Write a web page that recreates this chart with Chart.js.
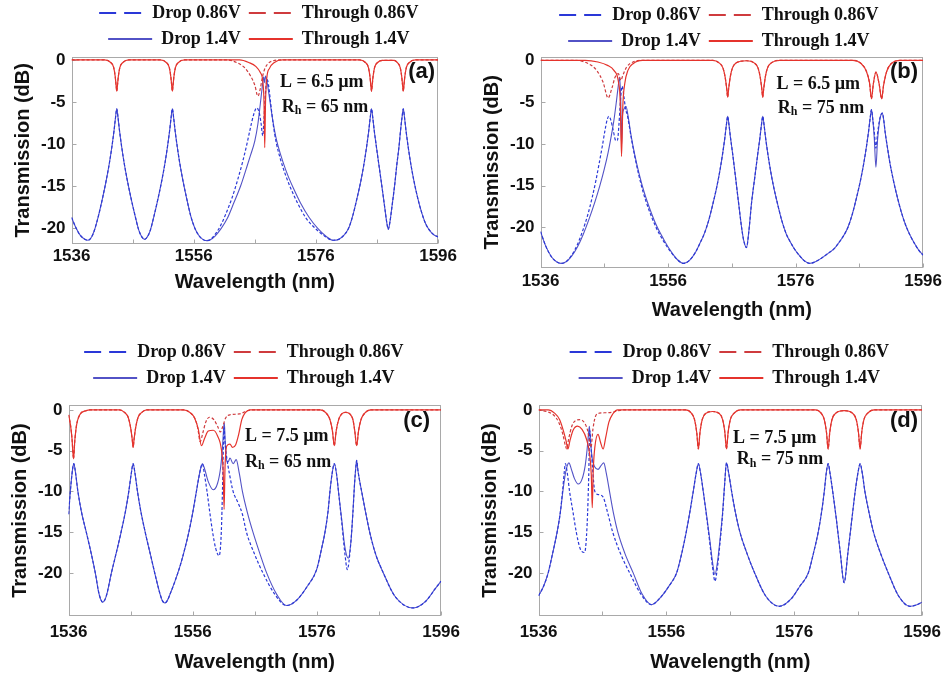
<!DOCTYPE html>
<html lang="en">

<head>
    <meta charset="UTF-8" />
    <title>Transmission spectra</title>
    <script src="https://cdn.jsdelivr.net/npm/chart.js"></script>
    <style>
        body {
            margin: 0;
            background: #fff;
        }

        #page {
            position: relative;
            width: 942px;
            height: 680px;
            overflow: hidden;
        }

        canvas {
            position: absolute;
        }
    </style>
</head>

<body>
    <div id="page">
        <canvas id="chartA" width="449" height="298" style="left:11px;top:-4px"></canvas>
        <canvas id="chartB" width="466" height="324" style="left:480px;top:-2px"></canvas>
        <canvas id="chartC" width="458" height="339" style="left:8px;top:335px"></canvas>
        <canvas id="chartD" width="469" height="339" style="left:478px;top:335px"></canvas>
    </div>

    <script>
        // axis ticks and series names
        const xTicks = [1536, 1556, 1576, 1596];
        const xMinorTicks = [1546, 1566, 1586];
        const yTicks = [0, -5, -10, -15, -20];
        const seriesLabels = ['Drop 0.86V', 'Through 0.86V', 'Drop 1.4V', 'Through 1.4V'];

        // (a) L = 6.5 um, Rh = 65 nm   [wavelength nm, dB]
        const aDrop086 = [
            [1536, -18.7], [1536.7, -19.9], [1537.4, -20.8], [1538.1, -21.25], [1538.7, -21.4], [1539.2, -21.1],
            [1539.7, -20.3], [1540.4, -18.5], [1541.1, -16.3], [1541.7, -14.2], [1542.2, -12.2], [1542.6, -10.3],
            [1542.95, -8.4], [1543.2, -6.8], [1543.4, -5.8], [1543.6, -6.8], [1543.85, -8.4], [1544.2, -10.3],
            [1544.6, -12.2], [1545.1, -14.2], [1545.7, -16.3], [1546.4, -18.5], [1547.0, -20.2], [1547.5, -21.0],
            [1547.95, -21.3], [1548.4, -21.0], [1548.9, -20.2], [1549.5, -18.5], [1550.2, -16.3], [1550.8, -14.2],
            [1551.3, -12.2], [1551.7, -10.3], [1552.05, -8.4], [1552.3, -6.8], [1552.5, -5.8], [1552.7, -6.8],
            [1552.95, -8.4], [1553.3, -10.3], [1553.7, -12.2], [1554.2, -14.2], [1554.8, -16.3], [1555.5, -18.5],
            [1556.2, -20.0], [1556.9, -20.9], [1557.5, -21.3], [1558.1, -21.45], [1558.7, -21.35], [1559.4, -20.8],
            [1560.3, -19.8], [1561.3, -18.2], [1562.3, -16.3], [1563.2, -14.2], [1564.0, -12.1], [1564.7, -10.0],
            [1565.3, -8.0], [1565.8, -6.5], [1566.3, -5.7], [1566.7, -6.2], [1567.0, -7.4], [1567.3, -9.0],
            [1567.5, -7.0], [1567.75, -3.8], [1568.0, -2.3], [1568.25, -3.0], [1568.6, -5.2], [1569.0, -7.6],
            [1569.5, -9.8], [1570.2, -11.8], [1571.0, -13.6], [1571.8, -15.1], [1573.0, -17.0], [1574.4, -18.8],
            [1575.9, -20.0], [1577.4, -20.9], [1578.8, -21.4], [1579.7, -21.3], [1580.6, -20.8], [1581.4, -19.9],
            [1582.1, -18.3], [1582.8, -16.2], [1583.4, -14.2], [1583.9, -12.2], [1584.3, -10.3], [1584.65, -8.4],
            [1584.9, -6.8], [1585.1, -5.8], [1585.3, -6.8], [1585.55, -8.4], [1585.9, -10.3], [1586.3, -12.4],
            [1586.8, -15.0], [1587.3, -17.7], [1587.6, -19.3], [1587.85, -20.1], [1588.1, -19.3], [1588.45, -17.4],
            [1588.9, -14.8], [1589.25, -12.4], [1589.6, -10.3], [1589.85, -8.4], [1590.1, -6.8], [1590.3, -5.8],
            [1590.5, -6.8], [1590.75, -8.4], [1591.1, -10.3], [1591.5, -12.2], [1592.0, -14.2], [1592.6, -16.2],
            [1593.3, -18.1], [1594.0, -19.5], [1594.8, -20.4], [1595.4, -20.8], [1596, -21.0]
        ];
        const aDrop14 = [
            [1536, -18.7], [1536.7, -19.9], [1537.4, -20.8], [1538.1, -21.25], [1538.7, -21.4], [1539.2, -21.1],
            [1539.7, -20.3], [1540.4, -18.5], [1541.1, -16.3], [1541.7, -14.2], [1542.2, -12.2], [1542.6, -10.3],
            [1542.95, -8.4], [1543.2, -6.8], [1543.4, -5.8], [1543.6, -6.8], [1543.85, -8.4], [1544.2, -10.3],
            [1544.6, -12.2], [1545.1, -14.2], [1545.7, -16.3], [1546.4, -18.5], [1547.0, -20.2], [1547.5, -21.0],
            [1547.95, -21.3], [1548.4, -21.0], [1548.9, -20.2], [1549.5, -18.5], [1550.2, -16.3], [1550.8, -14.2],
            [1551.3, -12.2], [1551.7, -10.3], [1552.05, -8.4], [1552.3, -6.8], [1552.5, -5.8], [1552.7, -6.8],
            [1552.95, -8.4], [1553.3, -10.3], [1553.7, -12.2], [1554.2, -14.2], [1554.8, -16.3], [1555.5, -18.5],
            [1556.2, -20.0], [1556.9, -20.9], [1557.5, -21.3], [1558.1, -21.45], [1558.7, -21.35], [1559.5, -20.9],
            [1560.5, -20.0], [1561.5, -18.8], [1562.6, -16.9], [1563.7, -14.9], [1564.6, -12.9], [1565.3, -11.3],
            [1566.0, -9.6], [1566.5, -7.6], [1566.9, -5.2], [1567.2, -3.3], [1567.45, -2.0], [1567.6, -2.7],
            [1567.75, -1.9], [1568.0, -2.6], [1568.4, -4.5], [1568.9, -7.0], [1569.4, -9.0], [1569.8, -10.2],
            [1570.6, -12.1], [1571.4, -13.7], [1572.3, -15.2], [1573.5, -17.0], [1574.9, -18.7], [1576.3, -20.0],
            [1577.6, -20.9], [1578.8, -21.4], [1579.7, -21.3], [1580.6, -20.8], [1581.4, -19.9],
            [1582.1, -18.3], [1582.8, -16.2], [1583.4, -14.2], [1583.9, -12.2], [1584.3, -10.3], [1584.65, -8.4],
            [1584.9, -6.8], [1585.1, -5.8], [1585.3, -6.8], [1585.55, -8.4], [1585.9, -10.3], [1586.3, -12.4],
            [1586.8, -15.0], [1587.3, -17.7], [1587.6, -19.3], [1587.85, -20.1], [1588.1, -19.3], [1588.45, -17.4],
            [1588.9, -14.8], [1589.25, -12.4], [1589.6, -10.3], [1589.85, -8.4], [1590.1, -6.8], [1590.3, -5.8],
            [1590.5, -6.8], [1590.75, -8.4], [1591.1, -10.3], [1591.5, -12.2], [1592.0, -14.2], [1592.6, -16.2],
            [1593.3, -18.1], [1594.0, -19.5], [1594.8, -20.4], [1595.4, -20.8], [1596, -21.0]
        ];
        const aThru086 = [
            [1536, 0], [1541.4, 0], [1542.4, -0.3], [1542.9, -0.9], [1543.15, -2.0], [1543.3, -3.1], [1543.4, -3.7],
            [1543.5, -3.1], [1543.65, -2.0], [1543.9, -0.9], [1544.4, -0.3], [1545.4, 0],
            [1550.5, 0], [1551.5, -0.3], [1552.0, -0.9], [1552.25, -2.0], [1552.4, -3.1], [1552.5, -3.7],
            [1552.6, -3.1], [1552.75, -2.0], [1553.0, -0.9], [1553.5, -0.3], [1554.5, 0],
            [1561.5, 0], [1563.0, -0.3], [1564.3, -0.9], [1565.3, -1.9], [1566.0, -3.0], [1566.5, -4.3],
            [1566.9, -3.4], [1567.2, -2.2], [1567.6, -1.1], [1568.2, -0.4], [1569.0, -0.1], [1570.0, 0],
            [1583.1, 0], [1584.1, -0.3], [1584.6, -0.9], [1584.85, -2.0], [1585.0, -3.1], [1585.1, -3.7],
            [1585.2, -3.1], [1585.35, -2.0], [1585.6, -0.9], [1586.1, -0.3], [1586.9, -0.05], [1587.85, -0.05],
            [1588.8, -0.05], [1589.3, -0.3], [1589.8, -0.9], [1590.05, -2.0], [1590.2, -3.1], [1590.3, -3.7],
            [1590.4, -3.1], [1590.55, -2.0], [1590.8, -0.9], [1591.3, -0.3], [1592.3, 0], [1596, 0]
        ];
        const aThru14 = [
            [1536, 0], [1541.4, 0], [1542.4, -0.3], [1542.9, -0.9], [1543.15, -2.0], [1543.3, -3.1], [1543.4, -3.7],
            [1543.5, -3.1], [1543.65, -2.0], [1543.9, -0.9], [1544.4, -0.3], [1545.4, 0],
            [1550.5, 0], [1551.5, -0.3], [1552.0, -0.9], [1552.25, -2.0], [1552.4, -3.1], [1552.5, -3.7],
            [1552.6, -3.1], [1552.75, -2.0], [1553.0, -0.9], [1553.5, -0.3], [1554.5, 0],
            [1563.5, 0], [1565.0, -0.3], [1566.2, -0.8], [1566.9, -1.5], [1567.3, -2.5], [1567.5, -5.0],
            [1567.62, -10.4], [1567.75, -5.0], [1567.95, -2.2], [1568.4, -1.0], [1569.2, -0.3], [1570.5, 0],
            [1583.1, 0], [1584.1, -0.3], [1584.6, -0.9], [1584.85, -2.0], [1585.0, -3.1], [1585.1, -3.7],
            [1585.2, -3.1], [1585.35, -2.0], [1585.6, -0.9], [1586.1, -0.3], [1586.9, -0.05], [1587.85, -0.05],
            [1588.8, -0.05], [1589.3, -0.3], [1589.8, -0.9], [1590.05, -2.0], [1590.2, -3.1], [1590.3, -3.7],
            [1590.4, -3.1], [1590.55, -2.0], [1590.8, -0.9], [1591.3, -0.3], [1592.3, 0], [1596, 0]
        ];

        // (b) L = 6.5 um, Rh = 75 nm
        const bDrop086 = [
            [1536, -20.5], [1536.8, -22.2], [1537.7, -23.5], [1538.5, -24.1], [1539.2, -24.3], [1540.0, -24.1],
            [1540.9, -23.3], [1541.8, -22.0], [1542.6, -20.4], [1543.4, -18.5], [1544.1, -16.4], [1544.7, -14.3],
            [1545.2, -12.3], [1545.7, -10.2], [1546.1, -8.4], [1546.45, -7.1], [1546.7, -6.7], [1547.0, -7.1],
            [1547.4, -8.4], [1547.8, -9.6], [1548.05, -9.6], [1548.3, -7.6], [1548.55, -4.6], [1548.8, -3.1],
            [1549.05, -4.2], [1549.35, -5.9], [1549.6, -6.5], [1549.9, -7.8], [1550.3, -9.6], [1550.8, -11.6],
            [1551.4, -13.7], [1552.1, -15.8], [1553.0, -17.9], [1554.0, -19.8], [1555.1, -21.4], [1556.3, -22.8],
            [1557.4, -23.8], [1558.4, -24.3], [1559.4, -23.9], [1560.35, -22.9], [1561.05, -21.8], [1561.65, -20.8],
            [1562.35, -19.2], [1563.05, -17.1], [1563.65, -15.1], [1564.15, -13.1], [1564.55, -11.2], [1564.9, -9.3],
            [1565.15, -7.7], [1565.35, -6.7], [1565.55, -7.7], [1565.8, -9.3], [1566.15, -11.3], [1566.55, -13.8],
            [1567.05, -17.0], [1567.55, -20.1], [1567.85, -21.5], [1568.3, -22.4], [1568.65, -20.6], [1569.1, -17.0],
            [1569.6, -14.0], [1570.05, -11.3], [1570.4, -9.3], [1570.65, -7.7], [1570.85, -6.7], [1571.05, -7.7],
            [1571.3, -9.3], [1571.65, -11.2], [1572.05, -13.1], [1572.55, -15.1], [1573.15, -17.1], [1573.85, -19.2],
            [1574.55, -20.8], [1575.15, -21.7], [1575.85, -22.6], [1576.65, -23.4], [1577.4, -24.0], [1578.2, -24.3],
            [1579.1, -24.1], [1580.0, -23.7], [1581.1, -23.1], [1582.1, -22.5], [1582.9, -21.7], [1583.6, -20.9],
            [1584.2, -20.0], [1584.9, -18.4], [1585.6, -16.3], [1586.2, -14.3], [1586.7, -12.3], [1587.1, -10.4],
            [1587.45, -8.5], [1587.7, -6.9], [1587.9, -5.9], [1588.1, -7.0], [1588.35, -8.6], [1588.6, -10.5],
            [1588.85, -8.8], [1589.15, -7.2], [1589.4, -6.5], [1589.6, -6.3], [1589.8, -7.0], [1590.05, -8.6],
            [1590.4, -10.4], [1590.8, -12.3], [1591.3, -14.2], [1591.9, -16.2], [1592.6, -18.2], [1593.3, -19.8],
            [1594.0, -21.0], [1594.8, -22.1], [1595.4, -22.8], [1596, -23.3]
        ];
        const bDrop14 = [
            [1536, -20.5], [1536.8, -22.2], [1537.7, -23.5], [1538.5, -24.1], [1539.2, -24.3], [1540.0, -24.1],
            [1540.9, -23.4], [1541.8, -22.3], [1542.7, -20.8], [1543.6, -19.0], [1544.5, -17.0], [1545.3, -15.0],
            [1546.0, -13.0], [1546.6, -11.0], [1547.1, -9.0], [1547.5, -7.2], [1547.85, -5.2], [1548.15, -3.3],
            [1548.4, -2.0], [1548.58, -5.0], [1548.7, -10.3], [1548.85, -6.6], [1549.1, -5.8], [1549.4, -5.5],
            [1549.75, -6.8], [1550.2, -9.0], [1550.8, -11.4], [1551.5, -13.7], [1552.3, -15.9], [1553.2, -17.9],
            [1554.2, -19.8], [1555.3, -21.4], [1556.4, -22.8], [1557.4, -23.8], [1558.4, -24.3], [1559.4, -23.9],
            [1560.35, -22.9], [1561.05, -21.8], [1561.65, -20.8],
            [1562.35, -19.2], [1563.05, -17.1], [1563.65, -15.1], [1564.15, -13.1], [1564.55, -11.2], [1564.9, -9.3],
            [1565.15, -7.7], [1565.35, -6.7], [1565.55, -7.7], [1565.8, -9.3], [1566.15, -11.3], [1566.55, -13.8],
            [1567.05, -17.0], [1567.55, -20.1], [1567.85, -21.5], [1568.3, -22.4], [1568.65, -20.6], [1569.1, -17.0],
            [1569.6, -14.0], [1570.05, -11.3], [1570.4, -9.3], [1570.65, -7.7], [1570.85, -6.7], [1571.05, -7.7],
            [1571.3, -9.3], [1571.65, -11.2], [1572.05, -13.1], [1572.55, -15.1], [1573.15, -17.1], [1573.85, -19.2],
            [1574.55, -20.8], [1575.15, -21.7], [1575.85, -22.6], [1576.65, -23.4], [1577.4, -24.0], [1578.2, -24.3],
            [1579.1, -24.1], [1580.0, -23.7], [1581.1, -23.1], [1582.1, -22.5], [1582.9, -21.7], [1583.6, -20.9],
            [1584.2, -20.0], [1584.9, -18.4], [1585.6, -16.3], [1586.2, -14.3], [1586.7, -12.3], [1587.1, -10.4],
            [1587.45, -8.5], [1587.7, -6.9], [1587.9, -5.9], [1588.1, -7.0], [1588.35, -9.4], [1588.6, -12.8],
            [1588.85, -9.6], [1589.15, -7.4], [1589.4, -6.5], [1589.6, -6.3], [1589.8, -7.0], [1590.05, -8.6],
            [1590.4, -10.4], [1590.8, -12.3], [1591.3, -14.2], [1591.9, -16.2], [1592.6, -18.2], [1593.3, -19.8],
            [1594.0, -21.0], [1594.8, -22.1], [1595.4, -22.8], [1596, -23.3]
        ];
        const bThru086 = [
            [1536, 0], [1541.5, 0], [1543.5, -0.4], [1544.8, -1.2], [1545.8, -2.6], [1546.6, -4.5], [1547.2, -3.3],
            [1547.7, -2.0], [1548.2, -1.6], [1548.6, -2.4], [1548.9, -1.8], [1549.5, -0.8], [1550.5, -0.2], [1552, 0],
            [1563, 0], [1564.0, -0.3], [1564.6, -0.9], [1564.95, -2.0], [1565.2, -3.4], [1565.35, -4.4],
            [1565.5, -3.4], [1565.75, -2.0], [1566.1, -0.9], [1566.7, -0.3], [1568.3, -0.05], [1569.5, -0.3],
            [1570.1, -0.9], [1570.45, -2.0], [1570.7, -3.4], [1570.85, -4.4], [1571.0, -3.4], [1571.25, -2.0],
            [1571.6, -0.9], [1572.2, -0.3], [1573.5, 0], [1585, 0], [1586.3, -0.4], [1587.1, -1.3], [1587.6, -2.7],
            [1587.9, -4.6], [1588.2, -2.8], [1588.6, -1.4], [1589.1, -2.8], [1589.5, -4.6], [1589.8, -3.0],
            [1590.3, -1.3], [1591.0, -0.4], [1592.5, 0], [1596, 0]
        ];
        const bThru14 = [
            [1536, 0], [1543, 0], [1545.0, -0.2], [1546.5, -0.6], [1547.5, -1.2], [1548.2, -2.5], [1548.5, -5.0],
            [1548.7, -11.5], [1548.9, -5.5], [1549.2, -2.8], [1549.7, -1.2], [1550.5, -0.4], [1552, 0],
            [1563, 0], [1564.0, -0.3], [1564.6, -0.9], [1564.95, -2.0], [1565.2, -3.4], [1565.35, -4.4],
            [1565.5, -3.4], [1565.75, -2.0], [1566.1, -0.9], [1566.7, -0.3], [1568.3, -0.05], [1569.5, -0.3],
            [1570.1, -0.9], [1570.45, -2.0], [1570.7, -3.4], [1570.85, -4.4], [1571.0, -3.4], [1571.25, -2.0],
            [1571.6, -0.9], [1572.2, -0.3], [1573.5, 0], [1585, 0], [1586.3, -0.4], [1587.1, -1.3], [1587.6, -2.7],
            [1587.9, -4.6], [1588.2, -2.8], [1588.6, -1.4], [1589.1, -2.8], [1589.5, -4.6], [1589.8, -3.0],
            [1590.3, -1.3], [1591.0, -0.4], [1592.5, 0], [1596, 0]
        ];

        // (c) L = 7.5 um, Rh = 65 nm
        const cDrop086 = [
            [1536, -12.8], [1536.4, -9.0], [1536.7, -7.0], [1536.85, -6.6], [1537.1, -7.6], [1537.5, -10.0],
            [1538.1, -12.6], [1538.85, -15.0], [1539.7, -17.8], [1540.4, -20.4], [1540.8, -22.2], [1541.15, -23.2],
            [1541.5, -23.6], [1541.85, -23.3], [1542.2, -22.5], [1542.9, -20.0], [1543.6, -17.8], [1544.4, -15.2],
            [1545.2, -12.3], [1545.7, -10.0], [1546.1, -7.8], [1546.4, -6.6], [1546.7, -7.8], [1547.1, -10.0],
            [1547.6, -12.3], [1548.4, -15.2], [1549.2, -17.8], [1550.0, -20.4], [1550.7, -22.5], [1551.1, -23.4],
            [1551.5, -23.7], [1551.9, -23.4], [1552.4, -22.5], [1553.1, -21.1], [1553.9, -19.3], [1554.7, -17.1],
            [1555.4, -14.9], [1556.0, -12.6], [1556.5, -10.4], [1556.95, -8.4], [1557.3, -7.1],
            [1557.55, -6.6], [1557.9, -8.0], [1558.3, -10.0], [1558.75, -12.6], [1559.2, -15.0], [1559.7, -17.0],
            [1560.25, -17.9], [1560.6, -15.0], [1560.8, -9.5], [1560.95, -4.0], [1561.05, -2.2], [1561.2, -4.0],
            [1561.5, -6.0], [1561.9, -7.8], [1562.5, -10.0], [1563.3, -11.4], [1564.0, -12.8], [1564.65, -15.0],
            [1565.9, -17.6], [1567.3, -20.0], [1569.2, -22.6], [1571.1, -24.0], [1572.8, -23.3], [1574.4, -21.7],
            [1575.95, -19.6], [1576.7, -17.2], [1577.3, -15.0], [1577.8, -12.4], [1578.1, -10.0], [1578.45, -7.8],
            [1578.8, -6.6], [1579.15, -7.8], [1579.5, -10.2], [1580.0, -13.8], [1580.5, -17.6], [1580.9, -19.6],
            [1581.4, -16.8], [1581.8, -12.6], [1582.05, -9.2], [1582.25, -7.2], [1582.4, -6.2], [1582.6, -7.4],
            [1582.9, -8.8], [1583.2, -10.0], [1583.8, -12.4], [1584.5, -15.0], [1585.5, -17.8], [1586.7, -20.0],
            [1588.5, -22.8], [1591.5, -24.3], [1593.5, -23.5], [1595, -22.0], [1596, -21.0]
        ];
        const cDrop14 = [
            [1536, -12.8], [1536.4, -9.0], [1536.7, -7.0], [1536.85, -6.6], [1537.1, -7.6], [1537.5, -10.0],
            [1538.1, -12.6], [1538.85, -15.0], [1539.7, -17.8], [1540.4, -20.4], [1540.8, -22.2], [1541.15, -23.2],
            [1541.5, -23.6], [1541.85, -23.3], [1542.2, -22.5], [1542.9, -20.0], [1543.6, -17.8], [1544.4, -15.2],
            [1545.2, -12.3], [1545.7, -10.0], [1546.1, -7.8], [1546.4, -6.6], [1546.7, -7.8], [1547.1, -10.0],
            [1547.6, -12.3], [1548.4, -15.2], [1549.2, -17.8], [1550.0, -20.4], [1550.7, -22.5], [1551.1, -23.4],
            [1551.5, -23.7], [1551.9, -23.4], [1552.4, -22.5], [1553.1, -21.1], [1553.9, -19.3], [1554.7, -17.1],
            [1555.4, -14.9], [1556.0, -12.6], [1556.5, -10.4], [1556.95, -8.4], [1557.3, -7.1],
            [1557.55, -6.6], [1557.9, -7.2], [1558.5, -8.8], [1559.3, -9.8], [1560.0, -9.0], [1560.5, -7.0],
            [1560.8, -4.5], [1561.0, -2.0], [1561.1, -1.6], [1561.2, -3.5], [1561.4, -6.0], [1561.7, -6.4],
            [1562.0, -5.9], [1562.5, -6.6], [1563.0, -6.1], [1563.5, -7.8], [1564.0, -10.0], [1564.8, -12.6],
            [1565.7, -15.0], [1566.8, -17.6], [1567.9, -20.0], [1569.5, -22.6], [1571.1, -24.0], [1572.8, -23.3],
            [1574.4, -21.7], [1575.95, -19.6], [1576.7, -17.2], [1577.3, -15.0], [1577.8, -12.4], [1578.1, -10.0],
            [1578.45, -7.8], [1578.8, -6.6], [1579.15, -7.8], [1579.5, -10.2], [1580.0, -13.5], [1580.5, -16.8],
            [1581.05, -18.2], [1581.5, -16.0], [1581.8, -12.5], [1582.05, -9.2], [1582.25, -7.2], [1582.4, -6.2],
            [1582.6, -7.4], [1582.9, -8.8], [1583.2, -10.0], [1583.8, -12.4], [1584.5, -15.0], [1585.5, -17.8],
            [1586.7, -20.0], [1588.5, -22.8], [1591.5, -24.3], [1593.5, -23.5], [1595, -22.0], [1596, -21.0]
        ];
        const cThru086 = [
            [1536, -0.6], [1536.3, -1.8], [1536.55, -3.5], [1536.8, -6.0], [1537.0, -3.8], [1537.3, -1.8],
            [1537.8, -0.6], [1538.8, -0.1], [1539.5, 0], [1544.2, 0], [1545.0, -0.3], [1545.6, -0.9],
            [1546.0, -2.2], [1546.25, -3.6], [1546.4, -4.6], [1546.55, -3.6], [1546.8, -2.2], [1547.2, -0.9],
            [1547.8, -0.3], [1548.6, 0], [1554.5, 0], [1555.5, -0.3], [1556.3, -1.0], [1556.8, -2.2],
            [1557.2, -3.9], [1557.6, -2.9], [1558.1, -1.5], [1558.7, -0.9], [1559.4, -1.2], [1560.0, -2.0],
            [1560.45, -2.7], [1560.85, -2.0], [1561.3, -1.0], [1562.0, -0.6], [1563.5, -0.5], [1564.5, -0.2],
            [1565.5, 0], [1576.5, 0], [1577.5, -0.4], [1578.1, -1.2], [1578.5, -2.6], [1578.8, -4.4],
            [1579.1, -2.6], [1579.5, -1.2], [1580.0, -0.5], [1580.6, -0.3], [1581.3, -0.5], [1581.8, -1.2],
            [1582.1, -2.6], [1582.4, -4.4], [1582.7, -2.6], [1583.1, -1.2], [1583.7, -0.4], [1584.7, 0], [1596, 0]
        ];
        const cThru14 = [
            [1536, -0.6], [1536.3, -1.8], [1536.55, -3.5], [1536.8, -6.0], [1537.0, -3.8], [1537.3, -1.8],
            [1537.8, -0.6], [1538.8, -0.1], [1539.5, 0], [1544.2, 0], [1545.0, -0.3], [1545.6, -0.9],
            [1546.0, -2.2], [1546.25, -3.6], [1546.4, -4.6], [1546.55, -3.6], [1546.8, -2.2], [1547.2, -0.9],
            [1547.8, -0.3], [1548.6, 0], [1554.5, 0], [1555.5, -0.3], [1556.3, -1.0], [1556.9, -2.4],
            [1557.4, -4.4], [1557.9, -3.5], [1558.5, -2.6], [1559.3, -2.5], [1560.0, -3.2], [1560.6, -4.8],
            [1560.9, -7.5], [1561.05, -12.2], [1561.2, -7.0], [1561.5, -4.4], [1562.0, -4.2], [1562.4, -4.6],
            [1562.9, -4.3], [1563.4, -3.0], [1563.9, -1.2], [1564.4, -0.4], [1565.2, 0], [1576.5, 0],
            [1577.5, -0.4], [1578.1, -1.2], [1578.5, -2.6], [1578.8, -4.4], [1579.1, -2.6], [1579.5, -1.2],
            [1580.0, -0.5], [1580.6, -0.3], [1581.3, -0.5], [1581.8, -1.2], [1582.1, -2.6], [1582.4, -4.4],
            [1582.7, -2.6], [1583.1, -1.2], [1583.7, -0.4], [1584.7, 0], [1596, 0]
        ];

        // (d) L = 7.5 um, Rh = 75 nm
        const dDrop086 = [
            [1536, -22.8], [1536.8, -21.6], [1537.5, -20.0], [1538.2, -17.6], [1538.9, -15.0], [1539.4, -12.6],
            [1539.75, -10.0], [1540.0, -7.8], [1540.2, -6.6], [1540.5, -7.8], [1540.85, -10.0], [1541.4, -12.6],
            [1541.9, -15.0], [1542.5, -17.0], [1543.2, -17.5], [1543.6, -14.0], [1543.85, -8.0], [1544.0, -2.5],
            [1544.2, -4.5], [1544.45, -7.2], [1544.8, -10.0], [1545.4, -10.4], [1546.1, -10.7], [1546.8, -12.6],
            [1547.6, -15.0], [1548.8, -17.6], [1550.25, -20.0], [1552.0, -22.6], [1553.65, -23.9], [1555.2, -22.9],
            [1556.5, -21.5], [1557.6, -20.0], [1558.4, -17.6], [1559.1, -15.0], [1559.7, -12.4], [1560.2, -10.0],
            [1560.65, -7.8], [1561.0, -6.6], [1561.35, -7.8], [1561.8, -10.2], [1562.3, -13.2], [1562.8, -16.4],
            [1563.2, -19.2], [1563.6, -21.0], [1564.0, -19.2], [1564.4, -16.2], [1564.8, -12.7], [1565.1, -9.2],
            [1565.4, -6.5], [1565.75, -7.8], [1566.2, -10.0], [1566.8, -12.6], [1567.5, -15.0], [1568.6, -17.6],
            [1569.8, -20.0], [1571.5, -22.8], [1573.65, -24.1], [1575.5, -23.2], [1576.9, -21.6], [1578.2, -20.0],
            [1579.0, -17.6], [1579.75, -15.0], [1580.3, -12.4], [1580.7, -10.0], [1581.0, -7.8], [1581.3, -6.6],
            [1581.6, -7.8], [1582.05, -10.2], [1582.6, -13.5], [1583.2, -17.5], [1583.8, -21.2], [1584.4, -17.5],
            [1585.0, -13.5], [1585.5, -10.2], [1585.95, -7.8], [1586.3, -6.6], [1586.65, -7.8], [1587.05, -10.0],
            [1587.7, -12.6], [1588.4, -15.0], [1589.5, -17.6], [1590.7, -20.0], [1592.3, -22.8], [1594.1, -24.1],
            [1595.2, -23.9], [1596, -23.6]
        ];
        const dDrop14 = [
            [1536, -22.8], [1536.8, -21.6], [1537.5, -20.0], [1538.2, -17.6], [1538.9, -15.0], [1539.4, -12.6],
            [1539.8, -10.0], [1540.2, -7.8], [1540.5, -6.8], [1540.75, -6.5], [1541.1, -7.2], [1541.6, -8.4],
            [1542.2, -9.1], [1542.8, -8.5], [1543.3, -6.8], [1543.6, -4.8], [1543.85, -2.6], [1543.95, -2.0],
            [1544.1, -3.6], [1544.4, -6.0], [1544.8, -7.0], [1545.3, -7.3], [1545.8, -6.8], [1546.2, -6.5],
            [1546.6, -7.8], [1547.1, -10.0], [1547.7, -12.6], [1548.4, -15.0], [1549.5, -17.6], [1550.8, -20.0],
            [1552.2, -22.6], [1553.65, -23.9], [1555.2, -22.9], [1556.5, -21.5], [1557.6, -20.0], [1558.4, -17.6],
            [1559.1, -15.0], [1559.7, -12.4], [1560.2, -10.0], [1560.65, -7.8], [1561.0, -6.6], [1561.35, -7.8],
            [1561.8, -10.2], [1562.3, -13.0], [1562.8, -16.0], [1563.2, -18.6], [1563.6, -20.2], [1564.0, -18.6],
            [1564.4, -15.8], [1564.8, -12.5], [1565.1, -9.2], [1565.4, -6.5], [1565.75, -7.8], [1566.2, -10.0],
            [1566.8, -12.6], [1567.5, -15.0], [1568.6, -17.6], [1569.8, -20.0], [1571.5, -22.8], [1573.65, -24.1],
            [1575.5, -23.2], [1576.9, -21.6], [1578.2, -20.0], [1579.0, -17.6], [1579.75, -15.0], [1580.3, -12.4],
            [1580.7, -10.0], [1581.0, -7.8], [1581.3, -6.6], [1581.6, -7.8], [1582.05, -10.2], [1582.6, -13.5],
            [1583.2, -17.5], [1583.8, -21.2], [1584.4, -17.5], [1585.0, -13.5], [1585.5, -10.2], [1585.95, -7.8],
            [1586.3, -6.6], [1586.65, -7.8], [1587.05, -10.0], [1587.7, -12.6], [1588.4, -15.0], [1589.5, -17.6],
            [1590.7, -20.0], [1592.3, -22.8], [1594.1, -24.1], [1595.2, -23.9], [1596, -23.6]
        ];
        const dThru086 = [
            [1536, 0], [1537.2, -0.2], [1538.3, -0.6], [1539.2, -1.6], [1539.8, -3.0], [1540.2, -4.4], [1540.4, -4.8],
            [1540.7, -3.6], [1541.2, -2.0], [1541.8, -1.3], [1542.5, -1.2], [1543.2, -1.6], [1543.7, -2.6],
            [1544.0, -4.0], [1544.2, -4.6], [1544.5, -2.4], [1544.9, -0.8], [1545.5, -0.4], [1546.5, -0.35],
            [1547.5, -0.3], [1548.5, -0.1], [1549.5, 0], [1559.0, 0], [1559.9, -0.4], [1560.4, -1.2],
            [1560.75, -2.8], [1561.0, -4.8], [1561.25, -2.8], [1561.6, -1.2], [1562.2, -0.4], [1563.2, -0.2],
            [1564.2, -0.4], [1564.8, -1.2], [1565.15, -2.8], [1565.4, -4.8], [1565.65, -2.8], [1566.0, -1.2],
            [1566.6, -0.4], [1567.6, 0], [1579.3, 0], [1580.2, -0.4], [1580.7, -1.2], [1581.05, -2.8],
            [1581.3, -4.8], [1581.55, -2.8], [1581.9, -1.2], [1582.5, -0.4], [1583.8, -0.1], [1585.1, -0.4],
            [1585.7, -1.2], [1586.05, -2.8], [1586.3, -4.8], [1586.55, -2.8], [1586.9, -1.2], [1587.5, -0.4],
            [1588.5, 0], [1596, 0]
        ];
        const dThru14 = [
            [1536, 0], [1537.5, 0], [1538.5, -0.4], [1539.3, -1.2], [1539.9, -2.6], [1540.3, -3.8], [1540.6, -4.8],
            [1540.9, -3.8], [1541.4, -2.5], [1542.1, -2.0], [1542.8, -2.4], [1543.5, -3.6], [1544.0, -5.5],
            [1544.25, -8.0], [1544.4, -12.0], [1544.55, -7.5], [1544.8, -4.6], [1545.3, -3.0], [1545.7, -4.0],
            [1546.1, -4.8], [1546.5, -3.4], [1547.0, -1.5], [1547.6, -0.5], [1548.4, 0], [1559.0, 0],
            [1559.9, -0.4], [1560.4, -1.2], [1560.75, -2.8], [1561.0, -4.8], [1561.25, -2.8], [1561.6, -1.2],
            [1562.2, -0.4], [1563.2, -0.2], [1564.2, -0.4], [1564.8, -1.2], [1565.15, -2.8], [1565.4, -4.8],
            [1565.65, -2.8], [1566.0, -1.2], [1566.6, -0.4], [1567.6, 0], [1579.3, 0], [1580.2, -0.4],
            [1580.7, -1.2], [1581.05, -2.8], [1581.3, -4.8], [1581.55, -2.8], [1581.9, -1.2], [1582.5, -0.4],
            [1583.8, -0.1], [1585.1, -0.4], [1585.7, -1.2], [1586.05, -2.8], [1586.3, -4.8], [1586.55, -2.8],
            [1586.9, -1.2], [1587.5, -0.4], [1588.5, 0], [1596, 0]
        ];

        const fontSans = '"Liberation Sans", Arial, sans-serif';
        const fontSerif = '"Liberation Serif", "Times New Roman", serif';

        // one entry per series, same order as seriesLabels
        const lineStyles = [
            { color: '#2a38d8', dash: [3, 2], width: 1.2, order: 2 },
            { color: '#cf3b3e', dash: [3, 2], width: 1.2, order: 1 },
            { color: '#5252c6', dash: [], width: 1.1, order: 3 },
            { color: '#e5332c', dash: [], width: 1.2, order: 0 }
        ];

        // nudges the legend block: extra room below it, and a sideways shift
        function legendPlace(extra, dx) {
            return {
                id: 'legendPlace',
                beforeInit(chart) {
                    const fit = chart.legend.fit;
                    chart.legend.fit = function () {
                        fit.call(this);
                        this.height += extra;
                    };
                },
                afterLayout(chart) {
                    chart.legend.left += dx;
                    chart.legend.right += dx;
                }
            };
        }

        // grey box round the plot with small inward ticks
        const frame = {
            id: 'frame',
            beforeDatasetsDraw(chart) {
                const { ctx, chartArea: a, scales: { x, y } } = chart;
                const l = Math.round(a.left) + 0.5, t = Math.round(a.top) + 0.5;
                const r = Math.round(a.right) - 0.5, b = Math.round(a.bottom) - 0.5;
                ctx.save();
                ctx.strokeStyle = '#a9a9a9';
                ctx.lineWidth = 1;
                ctx.strokeRect(l, t, r - l, b - t);
                ctx.beginPath();
                xTicks.concat(xMinorTicks).forEach(v => {
                    const px = Math.round(x.getPixelForValue(v)) + 0.5;
                    ctx.moveTo(px, b);
                    ctx.lineTo(px, b - 4);
                });
                yTicks.forEach(v => {
                    const py = Math.round(y.getPixelForValue(v)) + 0.5;
                    ctx.moveTo(l, py);
                    ctx.lineTo(l + 4, py);
                });
                ctx.stroke();
                ctx.restore();
            }
        };

        // L / Rh notes and the panel letter
        const notes = {
            id: 'notes',
            afterDatasetsDraw(chart, args, opts) {
                const { ctx, chartArea: a, scales: { x, y } } = chart;
                ctx.save();
                ctx.fillStyle = '#111';
                ctx.textBaseline = 'middle';
                ctx.textAlign = 'left';
                opts.lines.forEach(line => {
                    let px = x.getPixelForValue(line.at[0]);
                    const py = y.getPixelForValue(line.at[1]);
                    line.parts.forEach(p => {
                        ctx.font = `bold ${p.size}px ${fontSerif}`;
                        ctx.fillText(p.text, px, py + (p.dy || 0));
                        px += ctx.measureText(p.text).width;
                    });
                });
                ctx.font = `bold 22px ${fontSans}`;
                ctx.textAlign = 'right';
                ctx.fillText(opts.tag, a.right - opts.tagInset, y.getPixelForValue(opts.tagAt));
                ctx.restore();
            }
        };

        function noteLines(lText, rText, lAt, rAt) {
            return [
                { at: lAt, parts: [{ text: lText, size: 18 }] },
                { at: rAt, parts: [{ text: 'R', size: 18 }, { text: 'h', size: 12, dy: 4 }, { text: rText, size: 18 }] }
            ];
        }

        function buildChart(canvasId, series, panel) {
            const datasets = series.map((pts, i) => ({
                label: seriesLabels[i],
                data: pts.map(([x, y]) => ({ x, y })),
                borderColor: lineStyles[i].color,
                borderDash: lineStyles[i].dash,
                borderWidth: lineStyles[i].width,
                order: lineStyles[i].order,
                pointRadius: 0,
                cubicInterpolationMode: 'monotone',
                fill: false
            }));

            const tickFont = { family: fontSans, size: 17, weight: 'bold' };
            const titleFont = { family: fontSans, size: 20, weight: 'bold' };

            return new Chart(document.getElementById(canvasId), {
                type: 'line',
                data: { datasets },
                options: {
                    responsive: false,
                    animation: false,
                    events: [],
                    scales: {
                        x: {
                            type: 'linear',
                            min: 1536,
                            max: 1596,
                            afterBuildTicks: s => { s.ticks = xTicks.map(v => ({ value: v })); },
                            ticks: { color: '#111', font: tickFont, padding: panel.xPad, maxRotation: 0, callback: v => String(v) },
                            grid: { display: false, drawTicks: false },
                            border: { display: false },
                            title: {
                                display: true, text: 'Wavelength (nm)', color: '#111', font: titleFont,
                                padding: { top: panel.xTitlePad, bottom: 0 }
                            }
                        },
                        y: {
                            min: panel.yMin,
                            max: panel.yMax,
                            afterBuildTicks: s => { s.ticks = yTicks.map(v => ({ value: v })); },
                            ticks: { color: '#111', font: tickFont, padding: 6, callback: v => String(v) },
                            grid: { display: false, drawTicks: false },
                            border: { display: false },
                            title: { display: true, text: 'Transmission (dB)', color: '#111', font: titleFont, padding: 0 }
                        }
                    },
                    plugins: {
                        tooltip: { enabled: false },
                        legend: {
                            position: 'top',
                            fullSize: false,
                            align: 'center',
                            labels: {
                                color: '#111',
                                font: { family: fontSerif, size: 18, weight: 'bold' },
                                usePointStyle: true,
                                pointStyleWidth: 44,
                                padding: 8,
                                generateLabels: chart => chart.data.datasets.map((ds, i) => ({
                                    text: ds.label,
                                    datasetIndex: i,
                                    hidden: false,
                                    strokeStyle: ds.borderColor,
                                    fillStyle: 'rgba(0,0,0,0)',
                                    lineWidth: 2,
                                    lineDash: ds.borderDash.length ? [17, 8] : [],
                                    pointStyle: 'line',
                                    fontColor: '#111'
                                }))
                            }
                        },
                        notes: panel.notes
                    }
                },
                plugins: [legendPlace(panel.legendExtra, panel.legendDx), frame, notes]
            });
        }

        buildChart('chartA', [aDrop086, aThru086, aDrop14, aThru14], {
            yMin: -21.8, yMax: 0.35, xPad: 3, xTitlePad: 0, legendExtra: -1, legendDx: 4,
            notes: { lines: noteLines('L = 6.5 µm', ' = 65 nm', [1570.1, -2.7], [1570.4, -5.6]), tag: '(a)', tagInset: 3, tagAt: -1.4 }
        });
        buildChart('chartB', [bDrop086, bThru086, bDrop14, bThru14], {
            yMin: -24.8, yMax: 0.4, xPad: 4, xTitlePad: 2, legendExtra: -3, legendDx: -13,
            notes: { lines: noteLines('L = 6.5 µm', ' = 75 nm', [1573.0, -2.9], [1573.2, -5.7]), tag: '(b)', tagInset: 5, tagAt: -1.35 }
        });
        buildChart('chartC', [cDrop086, cThru086, cDrop14, cThru14], {
            yMin: -25.3, yMax: 0.6, xPad: 6, xTitlePad: 1.5, legendExtra: 8, legendDx: -11,
            notes: { lines: noteLines('L = 7.5 µm', ' = 65 nm', [1564.4, -3.3], [1564.4, -6.4]), tag: '(c)', tagInset: 11, tagAt: -1.35 }
        });
        buildChart('chartD', [dDrop086, dThru086, dDrop14, dThru14], {
            yMin: -25.3, yMax: 0.6, xPad: 6, xTitlePad: 1.5, legendExtra: 8, legendDx: -1,
            notes: { lines: noteLines('L = 7.5 µm', ' = 75 nm', [1566.4, -3.5], [1567.0, -6.1]), tag: '(d)', tagInset: 4, tagAt: -1.35 }
        });
    </script>
</body>

</html>
